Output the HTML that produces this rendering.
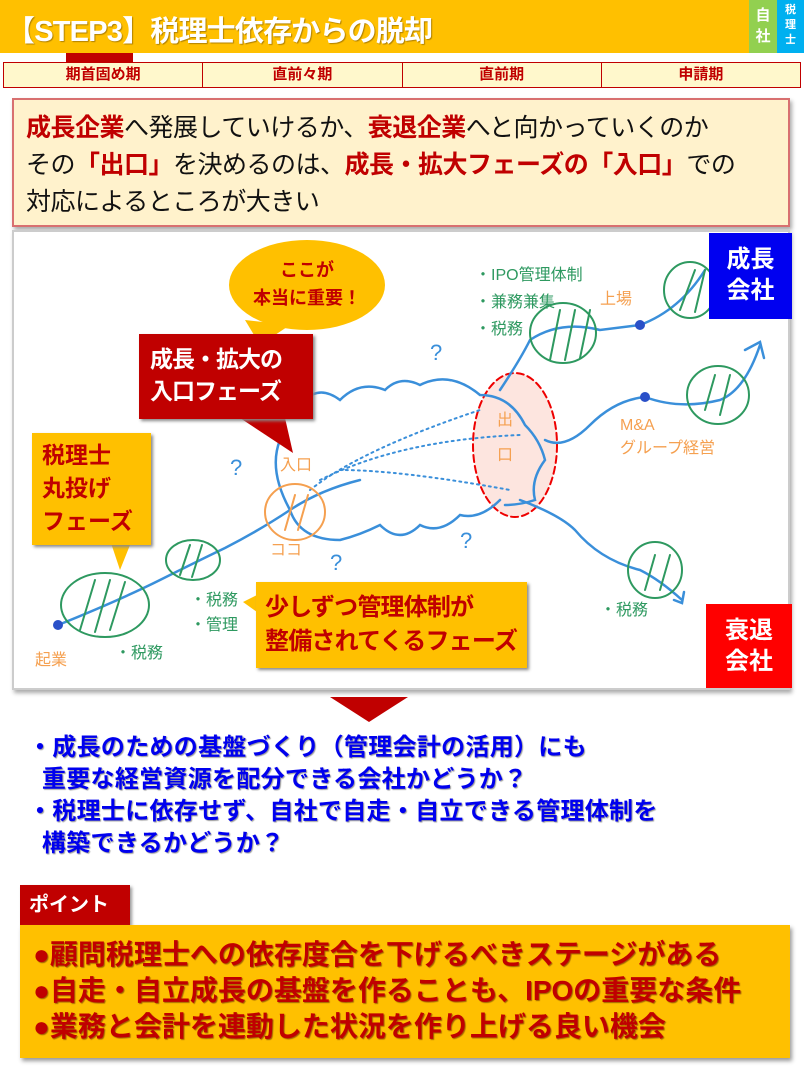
<!DOCTYPE html>
<html><head><meta charset="utf-8"><style>
*{margin:0;padding:0;box-sizing:border-box}
body{width:804px;height:1069px;background:#fff;position:relative;overflow:hidden;font-family:"Liberation Sans","Noto Sans CJK JP",sans-serif}
.a{position:absolute}
.b{font-weight:bold}
</style></head><body>
<div class="a" style="left:0;top:0;width:749px;height:53px;background:#FFC000"></div>
<div class="a b" style="left:6px;top:8px;font-size:29px;color:#fff;letter-spacing:-0.8px;text-shadow:1px 1px 1px #b08000">【STEP3】税理士依存からの脱却</div>
<div class="a b" style="left:749px;top:0;width:28px;height:53px;background:#92D050;color:#fff;font-size:15px;line-height:21px;text-align:center;padding-top:5px">自<br>社</div>
<div class="a b" style="left:777px;top:0;width:27px;height:53px;background:#00B0F0;color:#fff;font-size:11px;line-height:15px;text-align:center;padding-top:3px">税<br>理<br>士</div>
<div class="a" style="left:66px;top:53px;width:67px;height:9px;background:#C00000"></div>
<div class="a" style="left:3px;top:62px;width:798px;height:26px;background:#FFF8CC;border:1px solid #C00000;display:flex">
<div class="b" style="flex:1;border-right:1px solid #C00000;text-align:center;color:#C00000;font-size:15px;line-height:24px">期首固め期</div>
<div class="b" style="flex:1;border-right:1px solid #C00000;text-align:center;color:#C00000;font-size:15px;line-height:24px">直前々期</div>
<div class="b" style="flex:1;border-right:1px solid #C00000;text-align:center;color:#C00000;font-size:15px;line-height:24px">直前期</div>
<div class="b" style="flex:1;text-align:center;color:#C00000;font-size:15px;line-height:24px">申請期</div>
</div>
<div class="a" style="left:12px;top:98px;width:778px;height:129px;background:#FFF2CC;border:2px solid #D87070;box-shadow:2px 3px 4px #aaa;padding:10px 0 0 12px;font-size:25px;line-height:37px;color:#111;letter-spacing:-0.5px">
<span class="b" style="color:#C00000">成長企業</span>へ発展していけるか、<span class="b" style="color:#C00000">衰退企業</span>へと向かっていくのか<br>その<span class="b" style="color:#C00000">「出口」</span>を決めるのは、<span class="b" style="color:#C00000">成長・拡大フェーズの「入口」</span>での<br>対応によるところが大きい</div>
<div class="a" style="left:12px;top:230px;width:778px;height:460px;background:#fff;border:2px solid #ccc;box-shadow:2px 3px 4px #aaa"></div>
<svg class="a" style="left:0;top:0" width="804" height="700">
<g fill="none" stroke-linecap="round">
<ellipse cx="515" cy="445" rx="42" ry="72" fill="#FDE5DF" stroke="#E00" stroke-width="2" stroke-dasharray="7,4"/>
<g stroke="#3A8FDA" stroke-width="2.5">
<path d="M58 625 Q120 600 160 580 Q200 560 225 548 Q260 530 290 510 Q320 490 360 480"/>
<path d="M290 510 Q268 470 280 440 Q270 410 305 400 Q320 385 340 400 Q360 380 385 390 Q400 375 420 385 Q450 370 480 395 Q510 395 525 425 Q540 440 545 460 Q530 480 535 500 Q520 505 505 505"/>
<path d="M290 510 Q300 540 340 540 Q360 535 380 525 Q400 545 420 525 Q440 535 460 515 Q480 520 500 500"/>
<path d="M500 390 Q520 360 530 340 Q560 320 600 330 L640 325 Q680 310 705 270"/>
<path d="M545 440 Q565 450 590 425 Q615 400 645 397 Q680 410 720 400 Q745 390 760 345 M745 350 L760 342 L764 358"/>
<path d="M520 500 Q560 515 575 530 Q600 560 640 570 Q660 580 682 600 M674 600 L682 603 L684 592"/>
</g>
<g stroke="#3A8FDA" stroke-width="2" stroke-dasharray="2,4">
<path d="M310 490 Q360 450 480 410"/><path d="M320 480 Q400 440 520 435"/><path d="M340 470 Q400 470 510 490"/>
</g>
<g stroke="#2E9960" stroke-width="2">
<ellipse cx="105" cy="605" rx="44" ry="32"/><ellipse cx="193" cy="560" rx="27" ry="20"/><ellipse cx="563" cy="333" rx="33" ry="30"/><ellipse cx="690" cy="290" rx="26" ry="28"/><ellipse cx="718" cy="395" rx="31" ry="29"/><ellipse cx="655" cy="570" rx="27" ry="28"/>
<path d="M80 630 L95 580 M95 632 L110 580 M110 630 L125 582 M180 575 L190 545 M192 577 L202 545 M550 360 L560 310 M565 360 L575 310 M580 358 L590 310 M680 310 L695 270 M695 312 L705 270 M705 410 L715 375 M720 415 L730 375 M645 590 L655 555 M660 590 L670 555"/>
</g>
<ellipse cx="295" cy="512" rx="30" ry="28" stroke="#F5A050" stroke-width="2"/>
<path d="M285 530 L295 495 M298 530 L308 495" stroke="#F5A050" stroke-width="2"/>
</g>
<g fill="#2A50C8"><circle cx="58" cy="625" r="5"/><circle cx="640" cy="325" r="5"/><circle cx="645" cy="397" r="5"/></g>
<g font-size="16" fill="#2E9960" font-family="Liberation Sans, Noto Sans CJK JP, sans-serif">
<text x="475" y="280">・IPO管理体制</text><text x="475" y="307">・兼務兼集</text><text x="475" y="334">・税務</text>
<text x="190" y="605">・税務</text><text x="190" y="630">・管理</text><text x="115" y="658">・税務</text><text x="600" y="615">・税務</text></g>
<g font-size="16" fill="#F5A050" font-family="Liberation Sans, Noto Sans CJK JP, sans-serif">
<text x="35" y="665">起業</text><text x="280" y="470">入口</text><text x="270" y="555">ココ</text><text x="600" y="304">上場</text>
<text x="620" y="430">M&amp;A</text><text x="620" y="453">グループ経営</text><text x="497" y="425">出</text><text x="497" y="460">口</text></g>
<g font-size="22" fill="#3A8FDA"><text x="430" y="360">?</text><text x="230" y="475">?</text><text x="460" y="548">?</text><text x="330" y="570">?</text></g>
<path d="M245 320 L260 345 L290 325Z" fill="#FFC000"/>
<ellipse cx="307" cy="285" rx="78" ry="45" fill="#FFC000"/>
<text x="307" y="276" text-anchor="middle" font-size="18" font-weight="bold" fill="#C00000">ここが</text>
<text x="307" y="304" text-anchor="middle" font-size="18" font-weight="bold" fill="#C00000">本当に重要！</text>
<path d="M240 418 L293 453 L285 418Z" fill="#C00000"/>
<path d="M110 540 L120 570 L132 540Z" fill="#FFC000"/>
<path d="M257 595 L243 602 L257 612Z" fill="#FFC000"/>
</svg>
<div class="a b" style="left:139px;top:334px;width:174px;height:85px;background:#C00000;color:#fff;font-size:23px;line-height:32px;padding:9px 0 0 11px;letter-spacing:-1px;box-shadow:2px 2px 3px #888">成長・拡大の<br>入口フェーズ</div>
<div class="a b" style="left:32px;top:433px;width:119px;height:112px;background:#FFC000;color:#C00000;font-size:23px;line-height:33px;padding:6px 0 0 10px;box-shadow:2px 2px 3px #888">税理士<br>丸投げ<br>フェーズ</div>
<div class="a b" style="left:256px;top:582px;width:271px;height:86px;background:#FFC000;color:#C00000;font-size:24px;line-height:34px;padding:9px 0 0 9px;letter-spacing:-0.8px;box-shadow:2px 2px 3px #888">少しずつ管理体制が<br>整備されてくるフェーズ</div>
<div class="a b" style="left:709px;top:233px;width:83px;height:86px;background:#0000F0;color:#fff;font-size:24px;line-height:31px;text-align:center;padding-top:11px">成長<br>会社</div>
<div class="a b" style="left:706px;top:604px;width:86px;height:84px;background:#FF0000;color:#fff;font-size:24px;line-height:31px;text-align:center;padding-top:11px">衰退<br>会社</div>
<svg class="a" style="left:330px;top:697px" width="80" height="26"><path d="M0 0 L78 0 L39 25Z" fill="#C00000"/></svg>
<div class="a b" style="left:28px;top:732px;font-size:24px;line-height:32px;color:#0000EE;letter-spacing:0.3px;text-shadow:1px 1px 1px #999">・成長のための基盤づくり（管理会計の活用）にも<br>&nbsp;&nbsp;重要な経営資源を配分できる会社かどうか？<br>・税理士に依存せず、自社で自走・自立できる管理体制を<br>&nbsp;&nbsp;構築できるかどうか？</div>
<div class="a b" style="left:20px;top:885px;width:110px;height:40px;background:#C00000;color:#fff;font-size:20px;line-height:40px;padding-left:9px;box-shadow:2px 2px 3px #999">ポイント</div>
<div class="a b" style="left:20px;top:925px;width:770px;height:133px;background:#FFC000;box-shadow:2px 3px 4px #999;padding:12px 0 0 13px;font-size:28px;line-height:36px;color:#C00000;letter-spacing:0px;text-shadow:1px 1px 1px #a06000">●顧問税理士への依存度合を下げるべきステージがある<br>●自走・自立成長の基盤を作ることも、IPOの重要な条件<br>●業務と会計を連動した状況を作り上げる良い機会</div>
</body></html>
